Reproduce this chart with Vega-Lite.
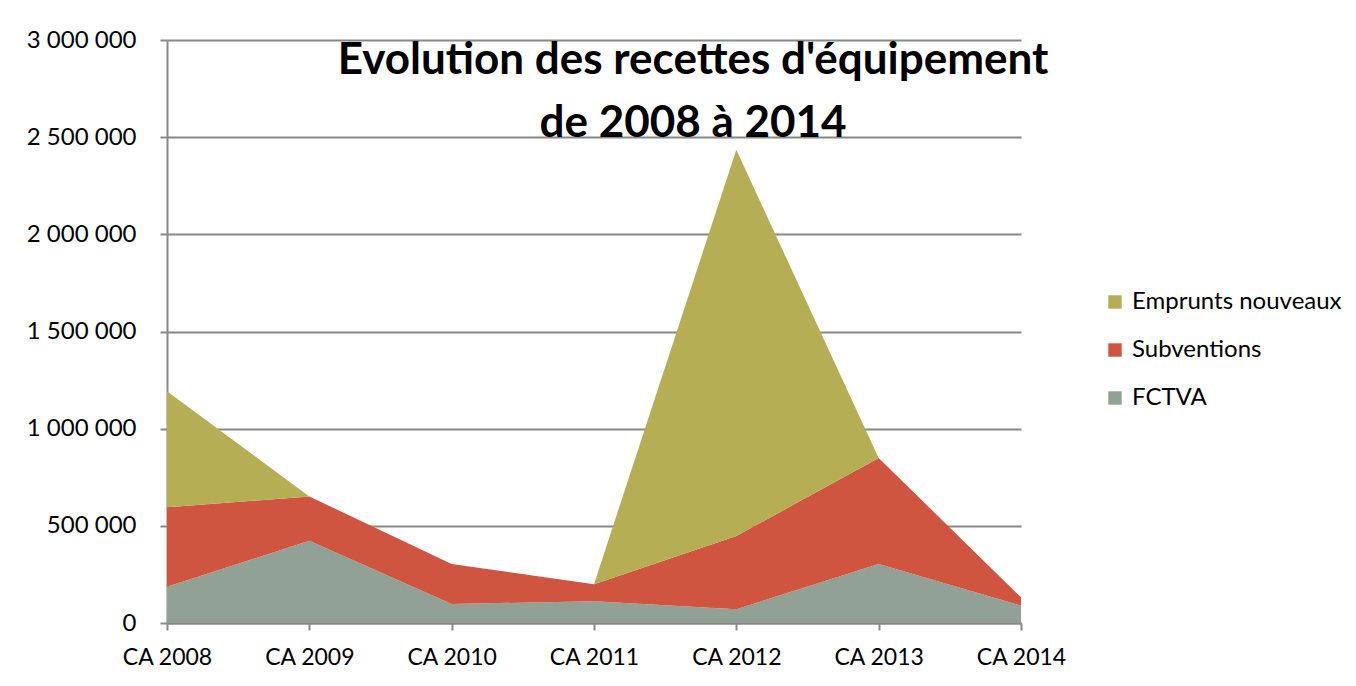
{
  "$schema": "https://vega.github.io/schema/vega-lite/v6.json",
  "width": 854,
  "height": 583,
  "autosize": {"type": "none"},
  "padding": {"left": 167, "top": 40, "right": 335, "bottom": 63},
  "background": "white",
  "config": {
    "font": "Lato",
    "view": {"stroke": null},
    "locale": {"number": {"decimal": ",", "thousands": " ", "grouping": [3], "currency": ["", " €"]}}
  },
  "title": {
    "text": ["Evolution des recettes d'équipement", "de 2008 à 2014"],
    "font": "Lato",
    "fontSize": 44,
    "fontWeight": "bold",
    "color": "#000000",
    "anchor": "middle",
    "frame": "group",
    "dx": 99,
    "baseline": "top",
    "lineHeight": 63,
    "offset": -118
  },
  "data": {
    "values": [
      {"annee": "CA 2008", "serie": "FCTVA", "rang": 1, "montant": 187000},
      {"annee": "CA 2009", "serie": "FCTVA", "rang": 1, "montant": 423000},
      {"annee": "CA 2010", "serie": "FCTVA", "rang": 1, "montant": 98000},
      {"annee": "CA 2011", "serie": "FCTVA", "rang": 1, "montant": 112000},
      {"annee": "CA 2012", "serie": "FCTVA", "rang": 1, "montant": 71000},
      {"annee": "CA 2013", "serie": "FCTVA", "rang": 1, "montant": 304000},
      {"annee": "CA 2014", "serie": "FCTVA", "rang": 1, "montant": 89000},
      {"annee": "CA 2008", "serie": "Subventions", "rang": 2, "montant": 409000},
      {"annee": "CA 2009", "serie": "Subventions", "rang": 2, "montant": 228000},
      {"annee": "CA 2010", "serie": "Subventions", "rang": 2, "montant": 206000},
      {"annee": "CA 2011", "serie": "Subventions", "rang": 2, "montant": 88000},
      {"annee": "CA 2012", "serie": "Subventions", "rang": 2, "montant": 377000},
      {"annee": "CA 2013", "serie": "Subventions", "rang": 2, "montant": 545000},
      {"annee": "CA 2014", "serie": "Subventions", "rang": 2, "montant": 43000},
      {"annee": "CA 2008", "serie": "Emprunts nouveaux", "rang": 3, "montant": 596000},
      {"annee": "CA 2009", "serie": "Emprunts nouveaux", "rang": 3, "montant": 0},
      {"annee": "CA 2010", "serie": "Emprunts nouveaux", "rang": 3, "montant": 0},
      {"annee": "CA 2011", "serie": "Emprunts nouveaux", "rang": 3, "montant": 0},
      {"annee": "CA 2012", "serie": "Emprunts nouveaux", "rang": 3, "montant": 1987000},
      {"annee": "CA 2013", "serie": "Emprunts nouveaux", "rang": 3, "montant": 0},
      {"annee": "CA 2014", "serie": "Emprunts nouveaux", "rang": 3, "montant": 0}
    ]
  },
  "mark": {"type": "area", "opacity": 1, "line": false},
  "encoding": {
    "x": {
      "field": "annee",
      "type": "ordinal",
      "scale": {"type": "point", "padding": 0},
      "axis": {
        "title": null,
        "labelAngle": 0,
        "labelFont": "Lato",
        "labelFontSize": 23,
        "labelColor": "#000000",
        "labelPadding": 16,
        "domainColor": "#888888",
        "domainWidth": 2,
        "tickColor": "#888888",
        "tickWidth": 2,
        "tickSize": 7,
        "grid": false
      }
    },
    "y": {
      "field": "montant",
      "type": "quantitative",
      "stack": "zero",
      "scale": {"domain": [0, 3000000], "nice": false},
      "axis": {
        "title": null,
        "values": [0, 500000, 1000000, 1500000, 2000000, 2500000, 3000000],
        "format": ",d",
        "labelFont": "Lato",
        "labelFontSize": 24,
        "labelColor": "#000000",
        "labelPadding": 24,
        "domainColor": "#888888",
        "domainWidth": 2,
        "tickColor": "#888888",
        "tickWidth": 2,
        "tickSize": 7,
        "grid": true,
        "gridColor": "#888888",
        "gridWidth": 2
      }
    },
    "order": {"field": "rang", "type": "quantitative"},
    "color": {
      "field": "serie",
      "type": "nominal",
      "scale": {
        "domain": ["Emprunts nouveaux", "Subventions", "FCTVA"],
        "range": ["#B5AE55", "#CF5540", "#92A195"]
      },
      "legend": {
        "title": null,
        "orient": "none",
        "legendX": 936,
        "legendY": 250,
        "symbolType": "square",
        "symbolSize": 180,
        "symbolStrokeWidth": 0,
        "symbolOpacity": 1,
        "labelFont": "Lato",
        "labelFontSize": 24,
        "labelLimit": 400,
        "labelColor": "#000000",
        "labelOffset": 5,
        "rowPadding": 24
      }
    }
  }
}
